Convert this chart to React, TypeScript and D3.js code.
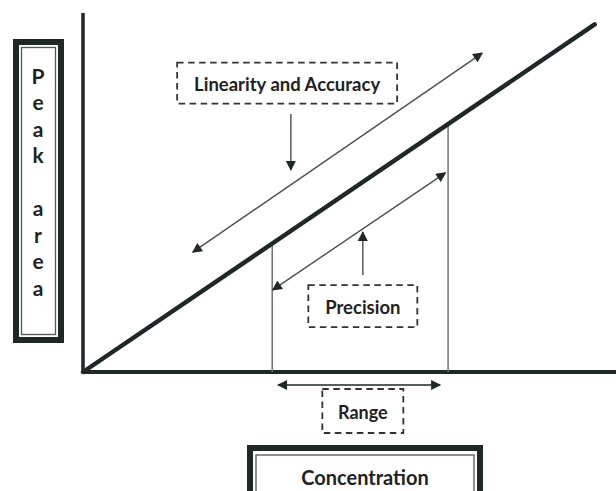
import React from 'react'
import * as d3 from 'd3'

// ── data (concentration / peak area units, 0–100) ───────────────────────────
const responseLine: [number, number][] = [[0, 0], [96, 96]]
const rangeBounds = [35.5, 68.5]
const linearityArrow: [number, number][] = [[20.6, 33.1], [74.9, 88.1]]
const precisionArrow: [number, number][] = [[35.6, 22.7], [68.0, 55.0]]
const rangeArrow = [36.6, 67.0]
const linearityPointer = { x: 39, from: 71.3, to: 55.8 }
const precisionPointer = { x: 52.5, from: 26.8, to: 38.7 }
const labels = {
  linearity: { text: 'Linearity and Accuracy', x: 38.3, y: 79.8 },
  precision: { text: 'Precision', x: 52.5, y: 18.2 },
  range: { text: 'Range', x: 52.5 },
  xTitle: 'Concentration',
  yTitle: 'Peak area',
}

// ── constants ────────────────────────────────────────────────────────────────
const W = 616
const H = 491
const INK = '#1e2826'
const THIN = '#4a4f4e'
const FONT = 'Lato, "Open Sans", sans-serif'

const x = d3.scaleLinear().domain([0, 100]).range([83, 616])
const y = d3.scaleLinear().domain([0, 100]).range([372, 10])

export default function App() {
  const line = d3.line<[number, number]>().x(d => x(d[0])).y(d => y(d[1]))
  const yTitleChars = labels.yTitle.split('')

  return (
    <svg width={W} height={H} style={{ position: 'absolute', left: 0, top: 0, background: '#fff' }}>
      <defs>
        <marker id="ah" viewBox="0 0 10 10" refX={9} refY={5} markerWidth={11} markerHeight={10}
          markerUnits="userSpaceOnUse" orient="auto-start-reverse">
          <path d="M0,0 L10,5 L0,10 Z" fill={INK} />
        </marker>
      </defs>

      {/* axes */}
      <line x1={x(0)} x2={x(0)} y1={13} y2={y(0)} stroke={INK} strokeWidth={3.5} />
      <line x1={x(0)} x2={W} y1={y(0)} y2={y(0)} stroke={INK} strokeWidth={3.8} />

      {/* range verticals */}
      {rangeBounds.map(v => (
        <line key={v} x1={x(v)} x2={x(v)} y1={y(0)} y2={y(v)} stroke="#6e7372" strokeWidth={1.5} />
      ))}

      {/* response line */}
      <path d={line(responseLine) ?? ''} stroke={INK} strokeWidth={4.5} fill="none" strokeLinecap="round" />

      {/* linearity & precision arrows */}
      {[linearityArrow, precisionArrow].map((pts, i) => (
        <path key={i} d={line(pts) ?? ''} stroke={THIN} strokeWidth={1.4} fill="none"
          markerStart="url(#ah)" markerEnd="url(#ah)" />
      ))}

      {/* pointer arrows from labels */}
      <line x1={x(linearityPointer.x)} x2={x(linearityPointer.x)} y1={y(linearityPointer.from)} y2={y(linearityPointer.to)}
        stroke={THIN} strokeWidth={1.4} markerEnd="url(#ah)" />
      <line x1={x(precisionPointer.x)} x2={x(precisionPointer.x)} y1={y(precisionPointer.from)} y2={y(precisionPointer.to)}
        stroke={THIN} strokeWidth={1.4} markerEnd="url(#ah)" />

      {/* range arrow */}
      <line x1={x(rangeArrow[0])} x2={x(rangeArrow[1])} y1={385} y2={385} stroke={INK} strokeWidth={1.6}
        markerStart="url(#ah)" markerEnd="url(#ah)" />

      {/* dashed label boxes */}
      {[
        { ...labels.linearity, cx: x(labels.linearity.x), cy: y(labels.linearity.y), w: 220, h: 41, fs: 18.5 },
        { ...labels.precision, cx: x(labels.precision.x), cy: y(labels.precision.y), w: 109, h: 42, fs: 18.5 },
        { ...labels.range, cx: x(labels.range.x), cy: 411, w: 81, h: 44, fs: 18 },
      ].map(b => (
        <g key={b.text}>
          <rect x={b.cx - b.w / 2} y={b.cy - b.h / 2} width={b.w} height={b.h} fill="#fff"
            stroke="#333" strokeWidth={1.8} strokeDasharray="6.5,4.5" />
          <text x={b.cx} y={b.cy + 1} textAnchor="middle" dominantBaseline="central" fontFamily={FONT}
            fontWeight={700} fontSize={b.fs} fill="#222">{b.text}</text>
        </g>
      ))}

      {/* y title box */}
      <rect x={16} y={42} width={45} height={298} fill="#fff" stroke={INK} strokeWidth={6} />
      <rect x={21.5} y={47.5} width={34} height={287} fill="none" stroke="#555" strokeWidth={1.3} />
      {yTitleChars.map((c, i) => (
        <text key={i} x={38} y={75 + i * 26.5} textAnchor="middle" dominantBaseline="central"
          fontFamily={FONT} fontWeight={700} fontSize={21} fill="#222">{c}</text>
      ))}

      {/* x title box */}
      <rect x={250} y={448} width={230} height={60} fill="#fff" stroke={INK} strokeWidth={6} />
      <rect x={256} y={455} width={218} height={50} fill="none" stroke="#555" strokeWidth={1.3} />
      <text x={x(52.9)} y={477} textAnchor="middle" dominantBaseline="central" fontFamily={FONT}
        fontWeight={700} fontSize={20} fill="#222">{labels.xTitle}</text>
    </svg>
  )
}
